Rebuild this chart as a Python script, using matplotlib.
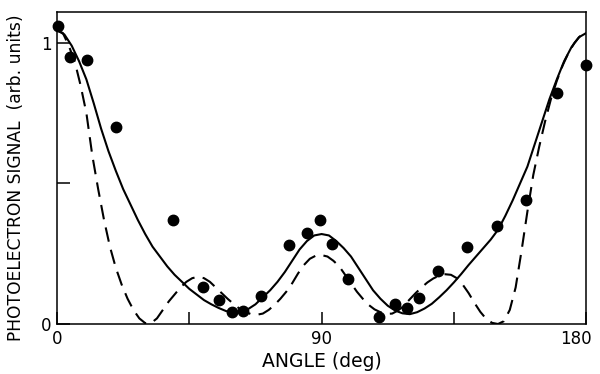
import matplotlib.pyplot as plt
from matplotlib.transforms import ScaledTranslation

# measured points (angle in deg, signal)
pts_x = [0.3, 4.4, 10.2, 20, 39.5, 49.7, 55, 59.5, 63.3, 69.4, 79, 85, 89.5, 93.5,
         99, 109.5, 115, 119, 123, 129.6, 139.5, 149.7, 159.5, 170, 180]
pts_y = [1.06, 0.95, 0.94, 0.70, 0.37, 0.13, 0.085, 0.042, 0.048, 0.10, 0.28, 0.325,
         0.37, 0.285, 0.16, 0.025, 0.072, 0.057, 0.093, 0.19, 0.275, 0.35, 0.44, 0.82, 0.92]

# solid theory curve
solid_x = [0, 2.5, 5, 7.5, 10, 12.5, 15, 17.5, 20, 22.5, 25, 27.5, 30, 32.5, 35, 37.5,
           40, 42.5, 45, 47.5, 50, 52.5, 55, 57.5, 60, 62.5, 65, 67.5, 70, 72.5, 75,
           77.5, 80, 82.5, 85, 87.5, 90, 92.5, 95, 97.5, 100, 102.5, 105, 107.5, 110,
           112.5, 115, 117.5, 120, 122.5, 125, 127.5, 130, 132.5, 135, 137.5, 140,
           142.5, 145, 147.5, 150, 152.5, 155, 157.5, 160, 162.5, 165, 167.5, 170,
           172.5, 175, 177.5, 180]
solid_y = [1.045, 1.03, 0.99, 0.935, 0.87, 0.785, 0.695, 0.615, 0.545, 0.48, 0.425,
           0.37, 0.32, 0.275, 0.24, 0.205, 0.175, 0.15, 0.125, 0.105, 0.085, 0.07,
           0.057, 0.046, 0.04, 0.043, 0.053, 0.07, 0.095, 0.12, 0.15, 0.185, 0.225,
           0.265, 0.295, 0.315, 0.32, 0.315, 0.295, 0.27, 0.24, 0.2, 0.16, 0.12, 0.09,
           0.065, 0.048, 0.038, 0.035, 0.042, 0.055, 0.072, 0.095, 0.12, 0.148, 0.178,
           0.21, 0.24, 0.27, 0.3, 0.335, 0.385, 0.44, 0.5, 0.56, 0.64, 0.72, 0.8, 0.87,
           0.935, 0.985, 1.02, 1.035]

# dashed theory curve
dash_x = [0, 2, 4, 6, 8, 10, 12, 14, 16, 18, 20, 22, 24, 26, 28, 30, 32, 34, 36, 38,
          40, 42, 44, 46, 48, 50, 52, 54, 56, 58, 60, 62, 64, 66, 68, 70, 72, 74, 76,
          78, 80, 82, 84, 86, 88, 90, 92, 94, 96, 98, 100, 102, 104, 106, 108, 110,
          112, 114, 116, 118, 120, 122, 124, 126, 128, 130, 132, 134, 136, 138, 140,
          142, 144, 146, 148, 150, 152, 154, 156, 158, 160, 162, 164, 166, 168, 170,
          172, 174, 176, 178, 180]
dash_y = [1.045, 1.035, 0.99, 0.935, 0.85, 0.75, 0.6, 0.48, 0.37, 0.275, 0.2, 0.14,
          0.09, 0.05, 0.02, 0.003, 0.003, 0.02, 0.05, 0.08, 0.105, 0.13, 0.15, 0.163,
          0.168, 0.163, 0.15, 0.13, 0.11, 0.09, 0.072, 0.055, 0.043, 0.035, 0.033,
          0.037, 0.05, 0.068, 0.09, 0.115, 0.145, 0.18, 0.21, 0.232, 0.243, 0.245,
          0.24, 0.225, 0.205, 0.175, 0.145, 0.115, 0.09, 0.068, 0.052, 0.042, 0.036,
          0.037, 0.048, 0.065, 0.088, 0.11, 0.13, 0.148, 0.162, 0.172, 0.177, 0.175,
          0.163, 0.14, 0.11, 0.075, 0.043, 0.018, 0.004, 0.0, 0.01, 0.05, 0.13, 0.26,
          0.4, 0.53, 0.63, 0.72, 0.8, 0.865, 0.92, 0.965, 1.0, 1.025, 1.035]

plt.rcParams['font.family'] = ['DejaVu Sans']
fig = plt.figure(figsize=(6, 3.74), dpi=100)
ax = fig.add_axes([0.095, 0.1337, 0.882, 0.8343])

ax.plot(solid_x, solid_y, color='k', lw=1.5)
ax.plot(dash_x, dash_y, color='k', lw=1.5, dashes=(7, 4))
ax.plot(pts_x, pts_y, 'o', color='k', ms=7.5, clip_on=False)

ax.set_xlim(0, 180)
ax.set_ylim(0, 1.11)
ax.set_xticks([0, 45, 90, 135, 180])
ax.set_xticklabels(['0', '', '90', '', '180'])
ax.set_yticks([0, 0.5, 1])
ax.set_yticklabels(['0', '', '1'])
ax.tick_params(direction='in', length=9, width=1.1, labelsize=12, pad=4)
for s in ax.spines.values():
    s.set_linewidth(1.1)

# pull "180" in so it stays on the page
lab = ax.get_xticklabels()[-1]
lab.set_transform(lab.get_transform() + ScaledTranslation(-0.1, 0, fig.dpi_scale_trans))

ax.set_xlabel('ANGLE (deg)', fontsize=13.5, labelpad=3)
ax.set_ylabel('PHOTOELECTRON SIGNAL  (arb. units)', fontsize=12.3, labelpad=9)
ax.yaxis.set_label_coords(-0.06, 0.47)

plt.savefig('out.png', dpi=100)
